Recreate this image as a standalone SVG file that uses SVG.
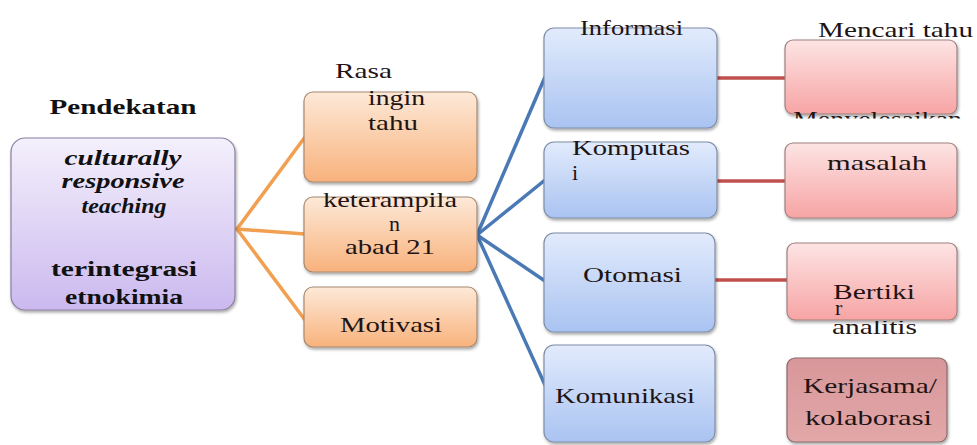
<svg xmlns="http://www.w3.org/2000/svg" width="977" height="445" viewBox="0 0 977 445">
<style>
.t{font-family:Liberation Serif, serif;font-size:22px;fill:#1e1414}
.b{font-weight:bold;fill:#111}
.i{font-style:italic}
.box{stroke-width:1.2}
.c{fill:none;stroke-width:3.5;stroke-linecap:round}
</style>
<defs>
<linearGradient id="gp" x1="0" y1="0" x2="0" y2="1"><stop offset="0" stop-color="#f4f0fc"/><stop offset="1" stop-color="#cbb9ef"/></linearGradient>
<linearGradient id="go" x1="0" y1="0" x2="0" y2="1"><stop offset="0" stop-color="#fde9d8"/><stop offset="1" stop-color="#f8b27c"/></linearGradient>
<linearGradient id="gb" x1="0" y1="0" x2="0" y2="1"><stop offset="0" stop-color="#e2ebfc"/><stop offset="1" stop-color="#a9c3f1"/></linearGradient>
<linearGradient id="gr" x1="0" y1="0" x2="0" y2="1"><stop offset="0" stop-color="#fde4e4"/><stop offset="1" stop-color="#f7a4a4"/></linearGradient>
<linearGradient id="gk" x1="0" y1="0" x2="0" y2="1"><stop offset="0" stop-color="#d8979a"/><stop offset="1" stop-color="#e2a7a8"/></linearGradient>
<filter id="sh" x="-10%" y="-10%" width="125%" height="130%"><feDropShadow dx="1" dy="2" stdDeviation="1.5" flood-color="#000" flood-opacity="0.35"/></filter>
<clipPath id="clipM"><rect x="780" y="100" width="197" height="18.5"/></clipPath>
<clipPath id="clipA"><rect x="780" y="321" width="197" height="30"/></clipPath>
</defs>

<g id="connectors">
<g stroke="#f0a050" class="c">
<line x1="237" y1="229" x2="305" y2="137"/>
<line x1="237" y1="229" x2="305" y2="234"/>
<line x1="237" y1="229" x2="305" y2="320"/>
</g>
<g stroke="#4a79b6" class="c">
<line x1="477" y1="235" x2="545" y2="77"/>
<line x1="477" y1="235" x2="545" y2="180"/>
<line x1="477" y1="235" x2="545" y2="281"/>
<line x1="477" y1="235" x2="545" y2="385"/>
</g>
<g stroke="#c0504d" class="c">
<line x1="717" y1="78" x2="785" y2="78"/>
<line x1="717" y1="181" x2="785" y2="181"/>
<line x1="715" y1="280" x2="787" y2="280"/>
</g>
</g>

<g id="title">
<text class="t b" x="123" y="114" text-anchor="middle" font-size="23" textLength="147" lengthAdjust="spacingAndGlyphs">Pendekatan</text>
</g>

<g id="node-crt">
<rect class="box" x="11" y="138" width="224" height="172" rx="14" fill="url(#gp)" stroke="#8a7fa0" filter="url(#sh)"/>
<text class="t b i" x="123" y="165" text-anchor="middle" textLength="117" lengthAdjust="spacingAndGlyphs">culturally</text>
<text class="t b i" x="123" y="188" text-anchor="middle" textLength="123" lengthAdjust="spacingAndGlyphs">responsive</text>
<text class="t b i" x="124" y="213" text-anchor="middle" textLength="85" lengthAdjust="spacingAndGlyphs">teaching</text>
<text class="t b" x="124" y="276" text-anchor="middle" textLength="146" lengthAdjust="spacingAndGlyphs">terintegrasi</text>
<text class="t b" x="124" y="304" text-anchor="middle" textLength="118" lengthAdjust="spacingAndGlyphs">etnokimia</text>
</g>

<g id="node-rasa">
<rect class="box" x="304" y="92" width="173" height="90" rx="9" fill="url(#go)" stroke="#a88a70" filter="url(#sh)"/>
<text class="t" x="335" y="78" textLength="57" lengthAdjust="spacingAndGlyphs">Rasa</text>
<text class="t" x="368" y="105" textLength="57" lengthAdjust="spacingAndGlyphs">ingin</text>
<text class="t" x="368" y="130" textLength="50" lengthAdjust="spacingAndGlyphs">tahu</text>
</g>

<g id="node-keterampilan">
<rect class="box" x="304" y="197" width="173" height="75" rx="9" fill="url(#go)" stroke="#a88a70" filter="url(#sh)"/>
<text class="t" x="323" y="207" textLength="134" lengthAdjust="spacingAndGlyphs">keterampila</text>
<text class="t" x="389" y="231" font-size="20">n</text>
<text class="t" x="345" y="254" textLength="90" lengthAdjust="spacingAndGlyphs">abad 21</text>
</g>

<g id="node-motivasi">
<rect class="box" x="304" y="287" width="173" height="60" rx="9" fill="url(#go)" stroke="#a88a70" filter="url(#sh)"/>
<text class="t" x="340" y="332" textLength="102" lengthAdjust="spacingAndGlyphs">Motivasi</text>
</g>

<g id="node-informasi">
<rect class="box" x="544" y="28" width="173" height="100" rx="10" fill="url(#gb)" stroke="#7f8ea8" filter="url(#sh)"/>
<text class="t" x="580" y="35" textLength="103" lengthAdjust="spacingAndGlyphs">Informasi</text>
</g>

<g id="node-komputasi">
<rect class="box" x="544" y="142" width="173" height="76" rx="10" fill="url(#gb)" stroke="#7f8ea8" filter="url(#sh)"/>
<text class="t" x="572" y="155" textLength="118" lengthAdjust="spacingAndGlyphs">Komputas</text>
<text class="t" x="572" y="180">i</text>
</g>

<g id="node-otomasi">
<rect class="box" x="544" y="233" width="171" height="99" rx="10" fill="url(#gb)" stroke="#7f8ea8" filter="url(#sh)"/>
<text class="t" x="583" y="282" textLength="99" lengthAdjust="spacingAndGlyphs">Otomasi</text>
</g>

<g id="node-komunikasi">
<rect class="box" x="544" y="345" width="171" height="97" rx="10" fill="url(#gb)" stroke="#7f8ea8" filter="url(#sh)"/>
<text class="t" x="555" y="403" textLength="140" lengthAdjust="spacingAndGlyphs">Komunikasi</text>
</g>

<g id="node-mencari">
<rect class="box" x="785" y="40" width="172" height="74" rx="8" fill="url(#gr)" stroke="#a08080" filter="url(#sh)"/>
<text class="t" x="818" y="37" textLength="155" lengthAdjust="spacingAndGlyphs">Mencari tahu</text>
<text class="t" x="793" y="126" textLength="169" lengthAdjust="spacingAndGlyphs" clip-path="url(#clipM)">Menyelesaikan</text>
</g>

<g id="node-masalah">
<rect class="box" x="785" y="143" width="172" height="75" rx="8" fill="url(#gr)" stroke="#a08080" filter="url(#sh)"/>
<text class="t" x="827" y="170" textLength="100" lengthAdjust="spacingAndGlyphs">masalah</text>
</g>

<g id="node-berfikir">
<rect class="box" x="787" y="243" width="170" height="77" rx="8" fill="url(#gr)" stroke="#a08080" filter="url(#sh)"/>
<text class="t" x="833" y="299" font-size="21" textLength="82" lengthAdjust="spacingAndGlyphs">Bertiki</text>
<text class="t" x="835" y="315" font-size="16">r</text>
<text class="t" x="832" y="334" textLength="85" lengthAdjust="spacingAndGlyphs" clip-path="url(#clipA)">analitis</text>
</g>

<g id="node-kerjasama">
<rect class="box" x="787" y="358" width="160" height="84" rx="8" fill="url(#gk)" stroke="#8a6a6a" filter="url(#sh)"/>
<text class="t" x="803" y="393" textLength="134" lengthAdjust="spacingAndGlyphs">Kerjasama/</text>
<text class="t" x="805" y="425" textLength="127" lengthAdjust="spacingAndGlyphs">kolaborasi</text>
</g>
</svg>
